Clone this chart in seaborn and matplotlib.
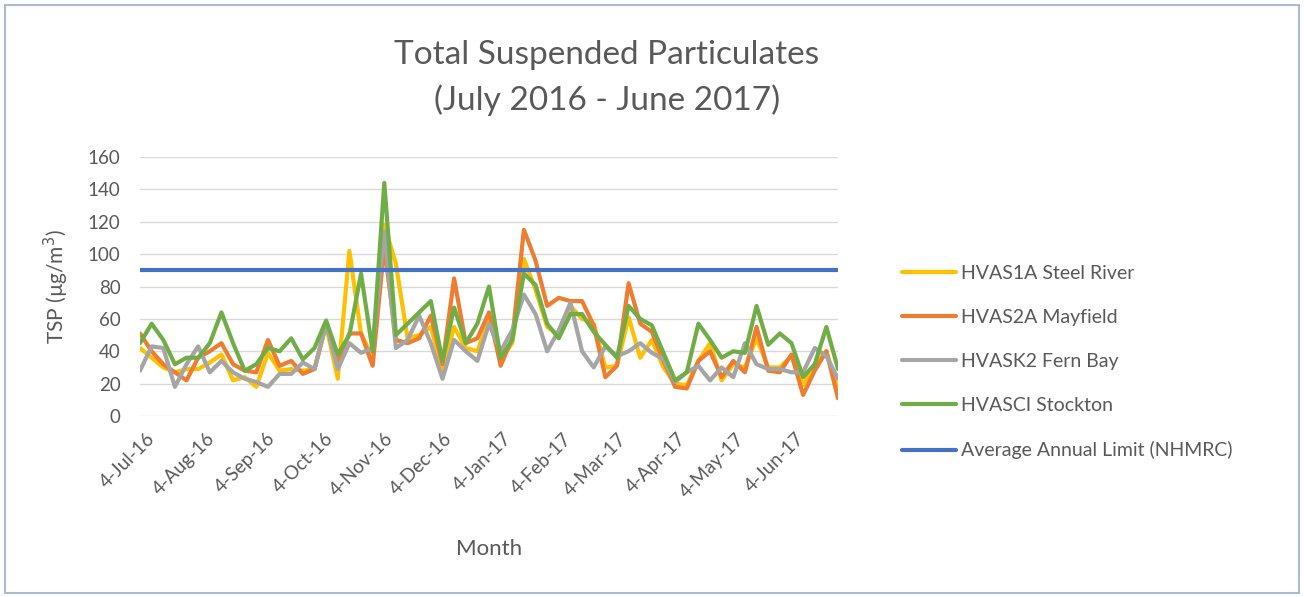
import pandas as pd
import matplotlib
matplotlib.use('Agg')
import matplotlib.pyplot as plt
import matplotlib.transforms as mtransforms
from matplotlib.patches import Rectangle
from matplotlib.lines import Line2D
import seaborn as sns

# sampling dates: every 6 days, 4 Jul 2016 - 29 Jun 2017
dates = pd.date_range('2016-07-04', periods=61, freq='6D')

steel_river = [42, 36, 30, 27, 29, 29, 33, 38, 22, 24, 18, 39, 28, 29, 28, 29, 56, 23, 102, 51,
               36, 118, 94, 48, 50, 55, 28, 55, 42, 40, 60, 35, 45, 97, 78, 55, 50, 68, 60, 57,
               30, 31, 61, 36, 47, 30, 20, 19, 34, 45, 22, 32, 30, 48, 30, 30, 37, 19, 32, 40, 16]
mayfield = [51, 40, 32, 27, 22, 36, 40, 45, 32, 28, 27, 47, 31, 34, 26, 29, 57, 34, 51, 51,
            31, 105, 47, 45, 48, 62, 32, 85, 45, 48, 64, 31, 48, 115, 96, 68, 73, 71, 71, 56,
            24, 31, 82, 57, 52, 34, 18, 17, 34, 40, 24, 34, 27, 55, 28, 27, 38, 13, 28, 40, 11]
fern_bay = [28, 43, 42, 18, 32, 43, 27, 34, 27, 23, 21, 18, 26, 26, 33, 29, 57, 29, 45, 39,
            42, 114, 42, 47, 62, 45, 23, 47, 40, 34, 57, 40, 53, 75, 63, 40, 53, 70, 40, 30,
            43, 37, 40, 45, 39, 35, 21, 27, 31, 22, 30, 24, 45, 32, 29, 29, 27, 27, 42, 37, 23]
stockton = [45, 57, 47, 32, 36, 36, 45, 64, 45, 28, 32, 42, 40, 48, 35, 42, 59, 38, 50, 88,
            40, 144, 50, 57, 64, 71, 34, 67, 45, 57, 80, 36, 47, 88, 81, 57, 48, 63, 63, 52,
            44, 36, 68, 60, 56, 39, 22, 27, 57, 47, 36, 40, 39, 68, 44, 51, 45, 24, 32, 55, 29]
limit = 90

series_names = ['HVAS1A Steel River', 'HVAS2A Mayfield', 'HVASK2 Fern Bay', 'HVASCI Stockton']
limit_name = 'Average Annual Limit (NHMRC)'
colors = ['#FFC000', '#ED7D31', '#A5A5A5', '#70AD47']
limit_color = '#4472C4'

tick_dates = pd.to_datetime(['2016-07-04', '2016-08-04', '2016-09-04', '2016-10-04',
                             '2016-11-04', '2016-12-04', '2017-01-04', '2017-02-04',
                             '2017-03-04', '2017-04-04', '2017-05-04', '2017-06-04'])
tick_labels = ['4-Jul-16', '4-Aug-16', '4-Sep-16', '4-Oct-16', '4-Nov-16', '4-Dec-16',
               '4-Jan-17', '4-Feb-17', '4-Mar-17', '4-Apr-17', '4-May-17', '4-Jun-17']

df = pd.DataFrame({'date': dates, series_names[0]: steel_river, series_names[1]: mayfield,
                   series_names[2]: fern_bay, series_names[3]: stockton})
long_df = df.melt(id_vars='date', var_name='site', value_name='tsp')

sns.set_style('white')
plt.rcParams['font.family'] = ['Lato', 'DejaVu Sans']
text_color = '#595959'

fig = plt.figure(figsize=(13.04, 5.97), dpi=100)
ax = fig.add_axes([140 / 1304, 1 - 416 / 597, 698 / 1304, 259 / 597])

sns.lineplot(data=long_df, x='date', y='tsp', hue='site', hue_order=series_names,
             palette=colors, linewidth=3, ax=ax, legend=False)
ax.axhline(limit, color=limit_color, linewidth=3)

ax.set_xlim(dates[0], dates[-1])
ax.set_ylim(0, 160)
ax.set_yticks(range(0, 161, 20))
ax.grid(axis='y', color='#D9D9D9', linewidth=1)
ax.set_axisbelow(True)
for s in ax.spines.values():
    s.set_visible(False)

ax.set_xticks(tick_dates)
ax.set_xticklabels(tick_labels, rotation=45, ha='right', rotation_mode='anchor')
ax.tick_params(axis='both', length=0, labelsize=13.5, colors=text_color)
ax.tick_params(axis='y', pad=14)
ax.tick_params(axis='x', pad=10)
shift = mtransforms.ScaledTranslation(6 / 100, 0, fig.dpi_scale_trans)
for lbl in ax.get_xticklabels():
    lbl.set_transform(lbl.get_transform() + shift)

ax.set_xlabel('Month', fontsize=16, color=text_color, labelpad=28)
ax.set_ylabel('TSP (µg/m$^3$)', fontsize=15, color=text_color, labelpad=12)

fig.text(607 / 1304, 1 - 55 / 597, 'Total Suspended Particulates', ha='center', va='center',
         fontsize=24, color=text_color)
fig.text(607 / 1304, 1 - 100 / 597, '(July 2016 - June 2017)', ha='center', va='center',
         fontsize=24, color=text_color)

handles = [Line2D([], [], color=c, linewidth=3) for c in colors + [limit_color]]
fig.legend(handles, series_names + [limit_name], loc='upper left',
           bbox_to_anchor=(884 / 1304, 1 - 247 / 597), frameon=False, fontsize=14,
           labelspacing=1.4, handlelength=2.8, handletextpad=0.25, labelcolor=text_color)

fig.patches.append(Rectangle((5 / 1304, 4 / 597), 1294 / 1304, 588 / 597,
                             transform=fig.transFigure, fill=False,
                             edgecolor='#A9BCD6', linewidth=1.5))

fig.savefig('out.png', dpi=100)
